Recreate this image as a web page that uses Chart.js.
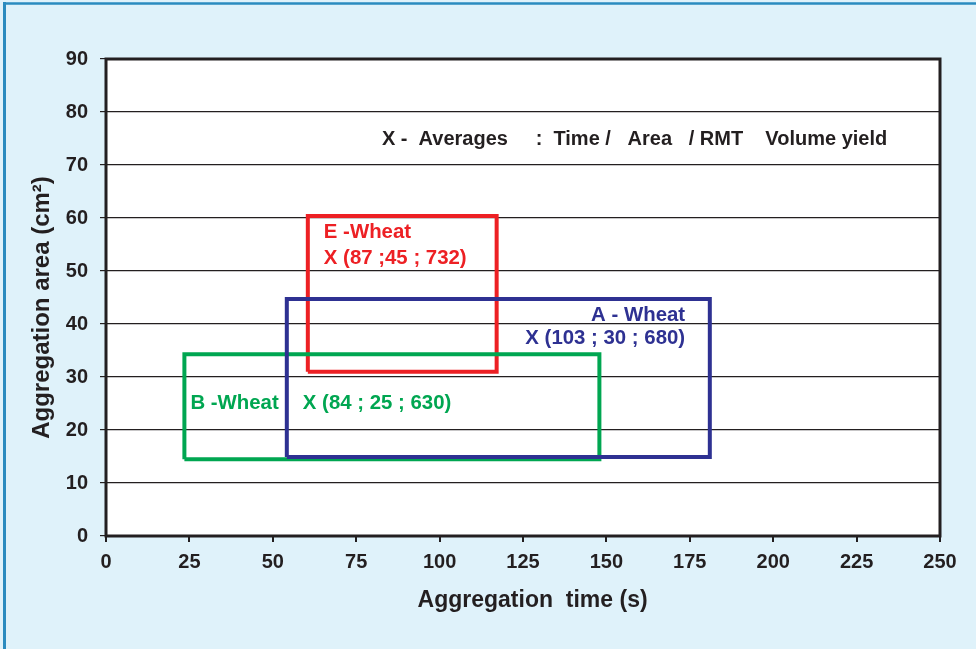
<!DOCTYPE html>
<html>
<head>
<meta charset="utf-8">
<script src="https://cdn.jsdelivr.net/npm/chart.js@4.4.1/dist/chart.umd.min.js"></script>
<style>
  html, body { margin: 0; padding: 0; background: #dff2fa; }
  canvas { display: block; }
</style>
</head>
<body>
<canvas id="c" width="976" height="649"></canvas>
<script>
// ---- data ----
const varieties = ['A - Wheat', 'B -Wheat', 'E -Wheat'];
const timeMin = [54.2, 23.5, 60.5];     // s
const timeMax = [181.0, 147.9, 117.1];  // s
const areaMin = [14.9, 14.5, 31.0];     // cm2
const areaMax = [44.7, 34.3, 60.4];     // cm2
const averageLabels = ['X (103 ; 30 ; 680)', 'X (84 ; 25 ; 630)', 'X (87 ;45 ; 732)'];
const xTicks = [0, 25, 50, 75, 100, 125, 150, 175, 200, 225, 250];
const yTicks = [0, 10, 20, 30, 40, 50, 60, 70, 80, 90];
const legendNote = 'X -  Averages     :  Time /   Area   / RMT    Volume yield';
const xTitle = '   Aggregation  time (s)';
const yTitle = 'Aggregation area (cm²)   ';

// ---- styles ----
const colors = ['#2e3192', '#00a651', '#ed2024'];
const FONT = "'Liberation Sans', Arial, sans-serif";
const INK = '#231f20';

// text annotations (data coordinates)
const annotations = [
  { text: varieties[2], x: 65.3, y: 57.2, align: 'left', color: colors[2], size: 20.4 },
  { text: averageLabels[2], x: 65.3, y: 52.4, align: 'left', color: colors[2], size: 20.4 },
  { text: varieties[0], x: 173.6, y: 41.7, align: 'right', color: colors[0], size: 20.4 },
  { text: averageLabels[0], x: 173.6, y: 37.3, align: 'right', color: colors[0], size: 20.4 },
  { text: varieties[1], x: 25.3, y: 25.1, align: 'left', color: colors[1], size: 20.4 },
  { text: averageLabels[1], x: 59.0, y: 25.1, align: 'left', color: colors[1], size: 20.4 },
  { text: legendNote, x: 82.7, y: 74.9, align: 'left', color: INK, size: 20 }
];

function rectPoints(i) {
  return [
    { x: timeMin[i], y: areaMin[i] },
    { x: timeMin[i], y: areaMax[i] },
    { x: timeMax[i], y: areaMax[i] },
    { x: timeMax[i], y: areaMin[i] },
    { x: timeMin[i], y: areaMin[i] }
  ];
}

const bgPlugin = {
  id: 'bg',
  beforeDraw(chart) {
    const { ctx, chartArea: a, width, height } = chart;
    ctx.save();
    ctx.fillStyle = '#dff2fa';
    ctx.fillRect(0, 0, width, height);
    ctx.strokeStyle = '#2a8bbf';
    ctx.lineWidth = 3;
    ctx.beginPath(); ctx.moveTo(4.5, 2); ctx.lineTo(4.5, height); ctx.stroke();
    ctx.lineWidth = 2.5;
    ctx.beginPath(); ctx.moveTo(3, 3.5); ctx.lineTo(width, 3.5); ctx.stroke();
    ctx.fillStyle = '#ffffff';
    ctx.fillRect(a.left, a.top, a.right - a.left, a.bottom - a.top);
    ctx.restore();
  },
  afterDraw(chart) {
    const { ctx, chartArea: a, scales } = chart;
    ctx.save();
    ctx.strokeStyle = INK;
    ctx.lineWidth = 3;
    ctx.strokeRect(a.left, a.top, a.right - a.left, a.bottom - a.top);
    ctx.textBaseline = 'middle';
    annotations.forEach(t => {
      ctx.font = 'bold ' + t.size + 'px ' + FONT;
      ctx.fillStyle = t.color;
      ctx.textAlign = t.align;
      ctx.fillText(t.text, scales.x.getPixelForValue(t.x), scales.y.getPixelForValue(t.y));
    });
    ctx.restore();
  }
};

new Chart(document.getElementById('c'), {
  type: 'scatter',
  data: {
    datasets: varieties.map((v, i) => ({
      label: v,
      data: rectPoints(i),
      showLine: true,
      borderColor: colors[i],
      borderWidth: 4,
      pointRadius: 0,
      fill: false,
      tension: 0,
      borderJoinStyle: 'miter'
    }))
  },
  options: {
    responsive: false,
    animation: false,
    layout: { padding: { left: 0, right: 36, top: 59, bottom: 0 } },
    plugins: { legend: { display: false }, tooltip: { enabled: false } },
    scales: {
      x: {
        type: 'linear',
        min: xTicks[0],
        max: xTicks[xTicks.length - 1],
        afterBuildTicks(scale) { scale.ticks = xTicks.map(v => ({ value: v })); },
        afterFit(scale) { scale.height = 113; },
        border: { display: false },
        grid: { drawOnChartArea: false, drawTicks: true, tickLength: 6, color: INK, lineWidth: 2 },
        ticks: { color: INK, padding: 8, maxRotation: 0, font: { family: FONT, size: 20, weight: 'bold' } },
        title: { display: true, text: xTitle, color: INK,
                 padding: { top: 0, bottom: 35 }, font: { family: FONT, size: 23, weight: 'bold' } }
      },
      y: {
        type: 'linear',
        min: yTicks[0],
        max: yTicks[yTicks.length - 1],
        afterBuildTicks(scale) { scale.ticks = yTicks.map(v => ({ value: v })); },
        afterFit(scale) { scale.width = 106; },
        border: { display: false },
        grid: { drawTicks: true, tickLength: 6, color: INK, lineWidth: 1.2 },
        ticks: { color: INK, padding: 12, font: { family: FONT, size: 20, weight: 'bold' } },
        title: { display: true, text: yTitle, color: INK,
                 padding: { top: 28, bottom: 0 }, font: { family: FONT, size: 24, weight: 'bold' } }
      }
    }
  },
  plugins: [bgPlugin]
});
</script>
</body>
</html>
